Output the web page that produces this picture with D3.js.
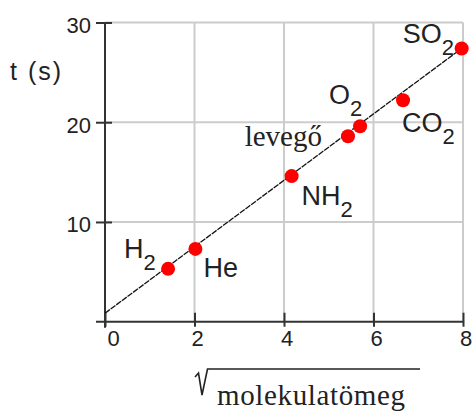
<!DOCTYPE html>
<html>
<head>
<meta charset="utf-8">
<script src="https://cdn.jsdelivr.net/npm/d3@7"></script>
<style>
  html, body { margin: 0; padding: 0; background: #fff; }
  svg { display: block; }
</style>
</head>
<body>
<script>
// Diffusion time of gases against the square root of their molar mass
const gasNames   = ["H", "He", "NH", "levegő", "O", "CO", "SO"];
const gasSubs    = ["2", "", "2", "", "2", "2", "2"];
const sqrtMass   = [1.41, 2.02, 4.17, 5.43, 5.70, 6.66, 7.97];
const timeSec    = [5.3, 7.3, 14.6, 18.6, 19.6, 22.2, 27.4];
const fitLineX   = [0, 7.97];
const fitLineY   = [0.85, 27.4];
const xTicks     = [0, 2, 4, 6, 8];
const yTicks     = [10, 20, 30];

// label placement relative to each point (layout only)
const labelLayout = [
  { dx: -44, dy: -11, anchor: "start", serif: false },
  { dx: 8,   dy: 28,  anchor: "start", serif: false },
  { dx: 10,  dy: 29,  anchor: "start", serif: false },
  { dx: -26, dy: 10,  anchor: "end",   serif: true  },
  { dx: -31, dy: -22, anchor: "start", serif: false },
  { dx: -1,  dy: 32,  anchor: "start", serif: false },
  { dx: -59, dy: -5,  anchor: "start", serif: false }
];

const W = 472, H = 411;
const sans = "'Liberation Sans', Arial, sans-serif";
const serif = "'Liberation Serif', 'Times New Roman', serif";

const svg = d3.select("body").append("svg").attr("width", W).attr("height", H);

const x = d3.scaleLinear().domain([0, 8]).range([105, 463]);
const y = d3.scaleLinear().domain([0, 30]).range([321.7, 22.5]);

// grid
const grid = svg.append("g").attr("stroke", "#cccccc").attr("stroke-width", 2);
grid.selectAll("line.gx").data(xTicks.filter(d => d > 0)).join("line")
  .attr("x1", d => x(d)).attr("x2", d => x(d))
  .attr("y1", y(30)).attr("y2", y(0));
grid.selectAll("line.gy").data(yTicks).join("line")
  .attr("x1", x(0)).attr("x2", x(8))
  .attr("y1", d => y(d)).attr("y2", d => y(d));

// axes
const axisColor = "#333";
const xAxis = svg.append("g").attr("transform", `translate(0,${y(0)})`)
  .call(d3.axisBottom(x).tickValues(xTicks).tickSizeOuter(0).tickSize(5).tickPadding(10));
xAxis.select(".domain").remove();
xAxis.selectAll(".tick line").attr("y1", -9).attr("y2", 5)
  .attr("stroke", axisColor).attr("stroke-width", 2);
xAxis.selectAll(".tick text")
  .attr("font-family", sans).attr("font-size", 22).attr("fill", "#222")
  .attr("dx", d => d === 0 ? 8 : 2.5).attr("dy", "0.75em").attr("y", 8);

const yAxis = svg.append("g").attr("transform", `translate(${x(0)},0)`)
  .call(d3.axisLeft(y).tickValues(yTicks).tickSizeOuter(0).tickSize(9).tickPadding(6));
yAxis.select(".domain").remove();
yAxis.selectAll(".tick line").attr("x1", -9).attr("x2", 7)
  .attr("stroke", axisColor).attr("stroke-width", 2);
yAxis.selectAll(".tick text")
  .attr("font-family", sans).attr("font-size", 22).attr("fill", "#222")
  .attr("x", -14).attr("dy", "0.45em");

svg.append("line").attr("x1", x(0) - 9).attr("x2", x(8))
  .attr("y1", y(0)).attr("y2", y(0)).attr("stroke", axisColor).attr("stroke-width", 2);
svg.append("line").attr("x1", x(0)).attr("x2", x(0))
  .attr("y1", y(30)).attr("y2", y(0) + 6).attr("stroke", axisColor).attr("stroke-width", 2);

// fitted line
const fit = fitLineX.map((v, i) => [v, fitLineY[i]]);
svg.append("path")
  .attr("d", d3.line().x(d => x(d[0])).y(d => y(d[1]))(fit))
  .attr("fill", "none").attr("stroke", "#111").attr("stroke-width", 1.3)
  .attr("stroke-dasharray", "6,1");

// points
svg.append("g").selectAll("circle").data(sqrtMass).join("circle")
  .attr("cx", d => x(d)).attr("cy", (d, i) => y(timeSec[i]))
  .attr("r", 7).attr("fill", "#ff0000");

// point labels
const labels = svg.append("g").selectAll("text").data(gasNames).join("text")
  .attr("x", (d, i) => x(sqrtMass[i]) + labelLayout[i].dx)
  .attr("y", (d, i) => y(timeSec[i]) + labelLayout[i].dy)
  .attr("text-anchor", (d, i) => labelLayout[i].anchor)
  .attr("font-family", (d, i) => labelLayout[i].serif ? serif : sans)
  .attr("font-size", (d, i) => labelLayout[i].serif ? 29 : 27)
  .attr("fill", "#222");
labels.append("tspan").text(d => d);
labels.filter((d, i) => gasSubs[i] !== "").append("tspan")
  .attr("dy", 12).attr("font-size", 22)
  .text((d, i) => gasSubs[gasNames.indexOf(d)]);

// axis titles
svg.append("text").attr("x", 10).attr("y", 80)
  .attr("font-family", sans).attr("font-size", 25).attr("fill", "#222")
  .attr("letter-spacing", 2)
  .text("t (s)");

svg.append("path")
  .attr("d", "M195,377 L198.5,373 L202,395 L207.5,369 L420,369")
  .attr("fill", "none").attr("stroke", "#222").attr("stroke-width", 1.6);
svg.append("text").attr("x", 217).attr("y", 405)
  .attr("font-family", serif).attr("font-size", 29).attr("fill", "#222")
  .attr("textLength", 188).attr("lengthAdjust", "spacing")
  .text("molekulatömeg");
</script>
</body>
</html>
